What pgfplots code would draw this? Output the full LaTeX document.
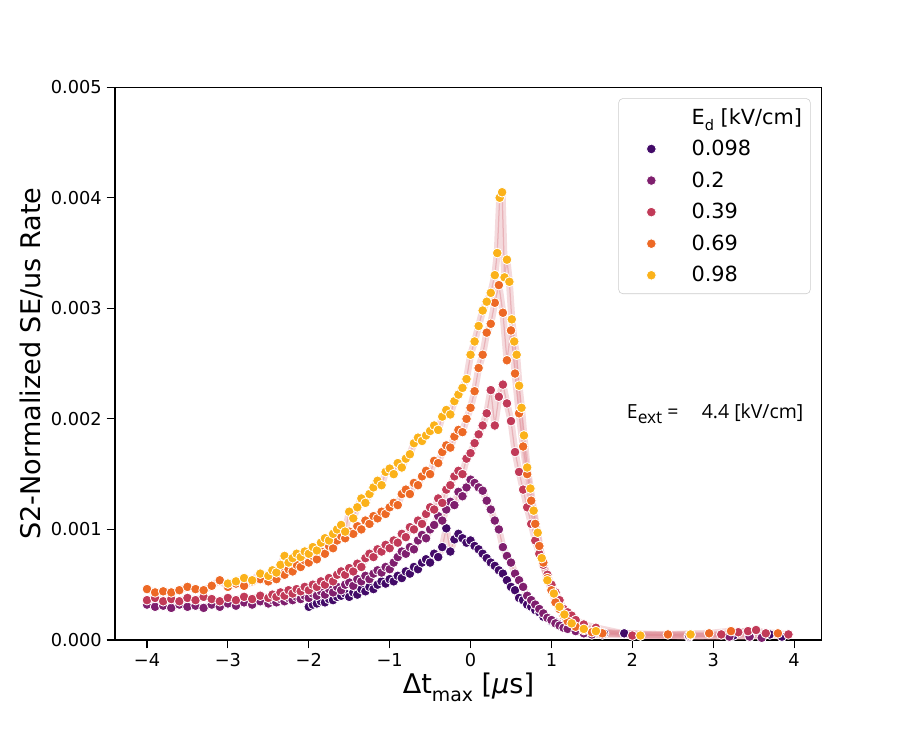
\documentclass[border=0pt]{standalone}
\usepackage{pgfplots}
\pgfplotsset{compat=1.18}
\usepackage{pgfplotstable}
\usepackage{fontspec}
\setmainfont{DejaVu Sans}
\newfontfamily\osans{Open Sans}
\definecolor{cA}{HTML}{420A68}
\definecolor{cB}{HTML}{7F1F6E}
\definecolor{cC}{HTML}{C13A58}
\definecolor{cD}{HTML}{ED6925}
\definecolor{cE}{HTML}{FBB21A}
\definecolor{band}{RGB}{222,140,150}
\definecolor{lgray}{RGB}{204,204,204}

\pgfplotstableread{
x y
-2.00 3.0
-1.95 3.2
-1.90 3.3
-1.85 3.5
-1.80 3.4
-1.75 3.7
-1.70 3.6
-1.65 3.9
-1.60 4.0
-1.55 4.2
-1.50 3.9
-1.45 4.3
-1.40 4.1
-1.35 4.6
-1.30 4.4
-1.25 4.8
-1.20 4.6
-1.15 5.0
-1.10 5.3
-1.05 5.1
-1.00 5.5
-0.95 5.3
-0.90 5.8
-0.85 5.6
-0.80 6.2
-0.75 6.0
-0.70 6.6
-0.65 6.4
-0.60 7.0
-0.55 7.3
-0.50 7.0
-0.45 7.8
-0.40 7.5
-0.35 8.4
-0.30 10.1
-0.25 8.0
-0.20 9.1
-0.15 9.6
-0.10 9.2
-0.05 8.8
0.00 9.0
0.05 8.5
0.10 8.2
0.15 7.8
0.20 7.4
0.25 7.0
0.30 6.7
0.35 6.3
0.40 6.0
0.45 5.4
0.50 4.8
0.55 4.5
0.60 3.8
0.65 3.6
0.70 3.2
0.75 3.0
0.80 2.7
0.85 2.5
0.90 2.1
0.95 2.0
1.00 1.7
1.05 1.6
1.10 1.4
1.15 1.2
1.20 1.1
1.30 0.9
1.40 0.8
1.50 0.7
1.65 0.6
1.90 0.6
2.70 0.3
3.25 0.4
3.45 0.4
3.70 0.5
3.85 0.3
}\sA

\pgfplotstableread{
x y
-4.00 3.2
-3.90 3.0
-3.80 3.1
-3.70 2.9
-3.60 3.2
-3.50 3.0
-3.40 3.1
-3.30 2.9
-3.20 3.2
-3.10 3.0
-3.00 3.3
-2.90 3.1
-2.80 3.4
-2.70 3.2
-2.60 3.5
-2.50 3.3
-2.45 3.6
-2.40 3.4
-2.35 3.7
-2.30 3.5
-2.25 3.8
-2.20 3.6
-2.15 3.9
-2.10 3.7
-2.05 4.0
-2.00 3.8
-1.95 4.2
-1.90 4.0
-1.85 4.4
-1.80 4.1
-1.75 4.6
-1.70 4.3
-1.65 4.8
-1.60 4.5
-1.55 5.0
-1.50 5.2
-1.45 4.9
-1.40 5.5
-1.35 5.3
-1.30 5.8
-1.25 5.5
-1.20 6.0
-1.15 6.3
-1.10 6.1
-1.05 6.6
-1.00 6.4
-0.95 7.0
-0.90 7.5
-0.85 8.0
-0.80 7.8
-0.75 8.4
-0.70 8.2
-0.65 9.0
-0.60 9.5
-0.55 9.2
-0.50 10.0
-0.45 10.4
-0.40 11.2
-0.35 10.8
-0.30 11.8
-0.25 12.5
-0.20 12.2
-0.15 13.4
-0.10 13.0
-0.05 13.8
0.00 14.5
0.05 14.2
0.10 13.8
0.15 13.5
0.20 12.6
0.25 11.8
0.30 10.8
0.35 10.0
0.40 8.4
0.45 7.6
0.50 7.0
0.55 6.0
0.60 5.4
0.65 4.8
0.70 4.0
0.75 3.6
0.80 3.2
0.85 2.8
0.90 2.4
0.95 2.0
1.00 1.8
1.05 1.5
1.10 1.3
1.15 1.1
1.20 1.0
1.30 0.8
1.40 0.6
1.50 0.5
1.63 0.5
2.70 0.4
3.20 0.3
3.45 0.3
3.60 0.2
}\sB

\pgfplotstableread{
x y
-4.00 3.6
-3.90 3.8
-3.80 3.5
-3.70 3.7
-3.60 3.5
-3.50 3.8
-3.40 3.6
-3.30 3.9
-3.20 3.7
-3.10 3.5
-3.00 3.8
-2.90 3.6
-2.80 3.9
-2.70 3.7
-2.60 4.0
-2.50 3.8
-2.45 4.1
-2.40 3.9
-2.35 4.3
-2.30 4.0
-2.25 4.5
-2.20 4.2
-2.15 4.6
-2.10 4.4
-2.05 4.8
-2.00 4.5
-1.95 5.0
-1.90 4.8
-1.85 5.3
-1.80 5.0
-1.75 5.6
-1.70 5.3
-1.65 5.9
-1.60 6.2
-1.55 5.9
-1.50 6.5
-1.45 6.2
-1.40 6.9
-1.35 6.6
-1.30 7.4
-1.25 7.8
-1.20 7.5
-1.15 8.2
-1.10 8.0
-1.05 8.6
-1.00 8.3
-0.95 9.0
-0.90 8.8
-0.85 9.6
-0.80 9.3
-0.75 10.2
-0.70 10.0
-0.65 10.8
-0.60 10.5
-0.55 11.4
-0.50 12.0
-0.45 11.8
-0.40 12.8
-0.35 12.4
-0.30 13.6
-0.25 14.0
-0.20 14.8
-0.15 15.3
-0.10 15.0
-0.05 16.4
0.00 16.9
0.05 17.8
0.10 18.6
0.15 19.4
0.20 20.5
0.25 22.6
0.30 19.4
0.35 22.0
0.40 23.1
0.45 21.4
0.50 19.8
0.55 17.0
0.60 15.2
0.65 13.6
0.70 12.0
0.75 10.5
0.80 9.0
0.85 7.8
0.90 6.8
0.95 5.9
1.00 5.0
1.05 4.3
1.10 3.6
1.15 2.8
1.20 2.5
1.25 2.2
1.30 1.8
1.40 1.4
1.55 1.1
2.00 0.4
2.72 0.45
3.10 0.5
3.31 0.7
3.43 0.8
3.53 0.9
3.65 0.6
3.93 0.5
}\sC

\pgfplotstableread{
x y
-4.00 4.6
-3.90 4.3
-3.80 4.4
-3.70 4.3
-3.60 4.5
-3.50 4.8
-3.40 4.6
-3.30 4.5
-3.20 4.9
-3.10 5.4
-3.00 4.8
-2.90 5.1
-2.80 4.9
-2.70 5.3
-2.60 5.5
-2.50 5.3
-2.45 5.7
-2.40 5.5
-2.35 6.1
-2.30 5.9
-2.25 6.4
-2.20 6.2
-2.15 6.8
-2.10 6.6
-2.05 7.2
-2.00 7.0
-1.95 7.6
-1.90 7.3
-1.85 8.0
-1.80 7.8
-1.75 8.5
-1.70 8.3
-1.65 9.0
-1.60 9.4
-1.55 9.2
-1.50 9.8
-1.45 9.6
-1.40 10.3
-1.35 10.0
-1.30 10.8
-1.25 10.5
-1.20 11.2
-1.15 11.0
-1.10 11.6
-1.05 11.4
-1.00 12.0
-0.95 12.4
-0.90 12.2
-0.85 13.2
-0.80 13.6
-0.75 13.2
-0.70 14.2
-0.65 14.0
-0.60 14.8
-0.55 15.3
-0.50 15.0
-0.45 16.2
-0.40 16.0
-0.35 17.0
-0.30 17.6
-0.25 17.4
-0.20 18.4
-0.15 19.0
-0.10 18.8
-0.05 20.0
0.00 21.0
0.05 22.5
0.10 24.6
0.15 25.8
0.20 27.8
0.25 28.6
0.30 30.5
0.35 32.1
0.40 29.6
0.45 25.3
0.50 28.0
0.55 24.1
0.60 20.5
0.65 17.5
0.70 15.0
0.75 12.6
0.80 10.5
0.85 8.5
0.90 7.0
0.95 5.6
1.00 4.5
1.05 3.4
1.10 2.8
1.15 2.2
1.20 1.7
1.30 1.2
1.40 0.9
1.50 0.7
1.63 0.6
2.44 0.5
2.95 0.6
3.22 0.8
3.80 0.6
}\sD

\pgfplotstableread{
x y
-3.00 5.1
-2.90 5.3
-2.80 5.6
-2.70 5.4
-2.60 6.0
-2.50 5.8
-2.45 6.3
-2.40 6.1
-2.35 6.8
-2.30 7.6
-2.25 7.0
-2.20 7.4
-2.15 7.8
-2.10 7.5
-2.05 8.0
-2.00 7.8
-1.95 8.4
-1.90 8.1
-1.85 8.8
-1.80 9.2
-1.75 9.0
-1.70 9.6
-1.65 10.0
-1.60 10.4
-1.55 9.8
-1.50 11.6
-1.45 11.0
-1.40 12.0
-1.35 12.8
-1.30 12.4
-1.25 13.2
-1.20 13.8
-1.15 14.4
-1.10 14.0
-1.05 15.2
-1.00 15.5
-0.95 15.0
-0.90 16.0
-0.85 15.6
-0.80 16.4
-0.75 16.8
-0.70 17.8
-0.65 18.3
-0.60 18.0
-0.55 18.5
-0.50 18.9
-0.45 19.4
-0.40 19.0
-0.35 20.2
-0.30 20.8
-0.25 20.4
-0.20 21.6
-0.15 22.2
-0.10 22.8
-0.05 23.6
0.00 25.8
0.05 27.0
0.10 28.4
0.15 29.8
0.20 30.6
0.25 31.4
0.30 33.0
0.33 35.0
0.36 40.0
0.39 40.5
0.42 32.8
0.45 34.4
0.48 32.4
0.51 29.0
0.54 27.0
0.57 25.8
0.60 23.0
0.63 21.0
0.66 18.5
0.70 15.6
0.74 13.7
0.78 11.7
0.83 9.7
0.88 7.4
0.95 5.4
1.03 4.2
1.10 3.0
1.16 2.3
1.25 1.5
1.40 1.0
1.55 0.8
2.10 0.4
2.72 0.5
}\sE

\begin{document}
\begin{tikzpicture}
\path[use as bounding box] (0,0) rectangle (657.4pt,526.3pt);
\begin{axis}[
  at={(82.8pt,65.5pt)}, anchor=south west,
  scale only axis, width=509pt, height=398pt,
  xmin=-4.396, xmax=4.344, ymin=0, ymax=50,
  xtick={-4,-3,...,4},
  xticklabels={−4,−3,−2,−1,0,1,2,3,4},
  ytick={0,10,20,30,40,50},
  yticklabels={0.000,0.001,0.002,0.003,0.004,0.005},
  tick align=outside, major tick length=6pt,
  tick style={black, line width=0.8pt},
  axis line style={black, line width=0.8pt},
  xtick pos=bottom, ytick pos=left,
  ticklabel style={font=\fontsize{12.8}{15}\selectfont},
  /pgf/number format/assume math mode=true,
  xlabel={Δt\raisebox{-0.28em}{\fontsize{13.6}{15}\selectfont max} [{\itshape μ}s]},
  ylabel={S2-Normalized SE/us Rate},
  label style={font=\fontsize{19.5}{22}\selectfont},
  xlabel style={at={(rel axis cs:0.5,-0.0977)}, anchor=base},
  ylabel style={at={(rel axis cs:-0.106,0.5)}, anchor=base},
  legend cell align=left,
  legend style={at={(rel axis cs:0.984,0.980)}, anchor=north east,
    draw=lgray, rounded corners=3pt, fill=white,
    font=\fontsize{15}{18}\selectfont, row sep=6.1pt,
    inner xsep=4pt, inner ysep=5pt},
  legend image code/.code={\path[draw=none,fill=none] (-19.5pt,0) -- (27pt,0);\draw[#1] plot coordinates {(0pt,0pt)};},
  every axis plot/.append style={line join=round},
]
\addplot[forget plot, draw=band, line width=5pt, opacity=0.32] table {\sA};
\addplot[forget plot, draw=band, line width=0.9pt, opacity=0.5] table {\sA};
\addplot[forget plot, draw=band, line width=5pt, opacity=0.32] table {\sB};
\addplot[forget plot, draw=band, line width=0.9pt, opacity=0.5] table {\sB};
\addplot[forget plot, draw=band, line width=5pt, opacity=0.32] table {\sC};
\addplot[forget plot, draw=band, line width=0.9pt, opacity=0.5] table {\sC};
\addplot[forget plot, draw=band, line width=5pt, opacity=0.32] table {\sD};
\addplot[forget plot, draw=band, line width=0.9pt, opacity=0.5] table {\sD};
\addplot[forget plot, draw=band, line width=5pt, opacity=0.32] table {\sE};
\addplot[forget plot, draw=band, line width=0.9pt, opacity=0.5] table {\sE};
\addlegendimage{empty legend}
\addlegendentry{E\raisebox{-0.3em}{\fontsize{10.5}{12}\selectfont d} [kV/cm]}
\addplot[only marks, mark=*, mark size=3.5pt, fill=cA, draw=white, line width=0.6pt] table {\sA};
\addlegendentry{0.098}
\addplot[only marks, mark=*, mark size=3.5pt, fill=cB, draw=white, line width=0.6pt] table {\sB};
\addlegendentry{0.2}
\addplot[only marks, mark=*, mark size=3.5pt, fill=cC, draw=white, line width=0.6pt] table {\sC};
\addlegendentry{0.39}
\addplot[only marks, mark=*, mark size=3.5pt, fill=cD, draw=white, line width=0.6pt] table {\sD};
\addlegendentry{0.69}
\addplot[only marks, mark=*, mark size=3.5pt, fill=cE, draw=white, line width=0.6pt] table {\sE};
\addlegendentry{0.98}
\node[anchor=base west, font=\osans\fontsize{14}{16}\selectfont, inner sep=0pt] at (axis cs:1.93,20.07)
  {E\raisebox{-0.3em}{\fontsize{12.5}{13}\selectfont ext} =\hspace{1.2em}4.4 [kV/cm]};
\end{axis}
\end{tikzpicture}
\end{document}
